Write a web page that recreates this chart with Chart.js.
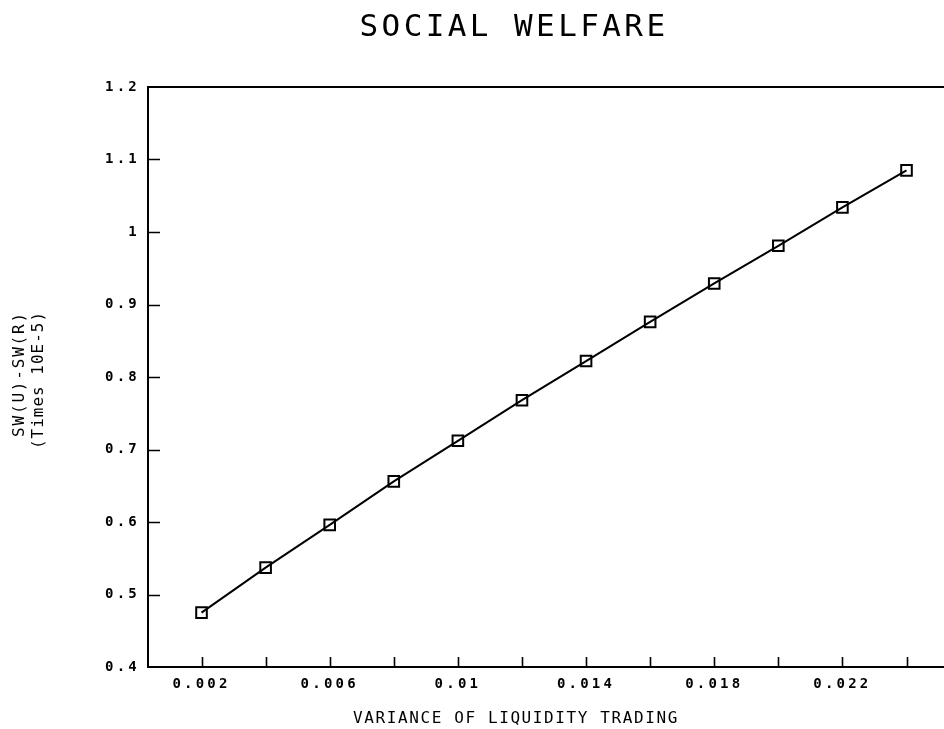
<!DOCTYPE html>
<html>
<head>
<meta charset="utf-8">
<title>Social Welfare</title>
<script src="https://cdn.jsdelivr.net/npm/chart.js@4/dist/chart.umd.min.js"></script>
<style>
  html, body { margin: 0; padding: 0; background: #ffffff; }
  #wrap { position: relative; width: 944px; height: 729px; }
</style>
</head>
<body>
<div id="wrap"><canvas id="chart"></canvas></div>
<script>
// Variance of liquidity trading (x) and the welfare gap SW(U)-SW(R), in units of 1e-5 (y)
const varianceLevels = [0.002, 0.004, 0.006, 0.008, 0.010, 0.012, 0.014, 0.016, 0.018, 0.020, 0.022, 0.024];
const welfareGap = [0.475, 0.537, 0.596, 0.656, 0.712, 0.768, 0.822, 0.876, 0.929, 0.981, 1.034, 1.085];

// Axis ticks and their labels (every other x tick carries a label)
const xTickValues = [0.002, 0.004, 0.006, 0.008, 0.010, 0.012, 0.014, 0.016, 0.018, 0.020, 0.022, 0.024];
const xTickLabels = ['0.002', '', '0.006', '', '0.01', '', '0.014', '', '0.018', '', '0.022', ''];
const yTickValues = [0.4, 0.5, 0.6, 0.7, 0.8, 0.9, 1.0, 1.1, 1.2];
const yTickLabels = ['0.4', '0.5', '0.6', '0.7', '0.8', '0.9', '1', '1.1', '1.2'];

// Text
const chartTitle = 'SOCIAL WELFARE';
const xAxisTitle = 'VARIANCE OF LIQUIDITY TRADING';
const yAxisTitle = ['SW(U)-SW(R)', '(Times 10E-5)'];

const MONO = '"DejaVu Sans Mono", "Liberation Mono", monospace';
const INK = '#000000';

// Frame top edge, inward tick marks and the spaced-out plotter-style text
const plotterDecor = {
  id: 'plotterDecor',
  beforeDraw(chart) {
    // tick labels are drawn with wide letter spacing
    chart.ctx.letterSpacing = '3.2px';
  },
  afterDraw(chart) {
    const ctx = chart.ctx;
    const area = chart.chartArea;
    const xs = chart.scales.x;
    const ys = chart.scales.y;
    ctx.save();
    ctx.strokeStyle = INK;
    ctx.fillStyle = INK;

    // top edge of the frame
    ctx.lineWidth = 2;
    ctx.beginPath();
    ctx.moveTo(area.left, area.top);
    ctx.lineTo(area.right, area.top);
    ctx.stroke();

    // inward ticks
    ctx.lineWidth = 1.6;
    ctx.beginPath();
    xTickValues.forEach(v => {
      const px = Math.round(xs.getPixelForValue(v)) + 0.5;
      ctx.moveTo(px, area.bottom);
      ctx.lineTo(px, area.bottom - 10);
    });
    yTickValues.forEach(v => {
      if (v <= ys.min || v >= ys.max) return;
      const py = Math.round(ys.getPixelForValue(v)) + 0.5;
      ctx.moveTo(area.left, py);
      ctx.lineTo(area.left + 12, py);
    });
    ctx.stroke();

    // title
    ctx.textAlign = 'center';
    ctx.textBaseline = 'middle';
    ctx.letterSpacing = '3.4px';
    ctx.font = '31px ' + MONO;
    ctx.fillText(chartTitle, 514, 28);

    // x axis title
    ctx.letterSpacing = '1.6px';
    ctx.font = '16px ' + MONO;
    ctx.fillText(xAxisTitle, 516, 719);

    // y axis title, two rotated lines
    ctx.save();
    ctx.rotate(-Math.PI / 2);
    ctx.letterSpacing = '1.8px';
    ctx.font = '16px ' + MONO;
    ctx.fillText(yAxisTitle[0], -374, 20);
    ctx.letterSpacing = '1px';
    ctx.fillText(yAxisTitle[1], -380, 39);
    ctx.restore();

    ctx.restore();
  }
};

new Chart(document.getElementById('chart'), {
  type: 'line',
  data: {
    datasets: [{
      data: varianceLevels.map((v, i) => ({ x: v, y: welfareGap[i] })),
      borderColor: INK,
      borderWidth: 2,
      backgroundColor: 'rgba(0,0,0,0)',
      pointStyle: 'rect',
      pointRadius: 7.5,
      pointBorderWidth: 2,
      pointBorderColor: INK,
      pointBackgroundColor: 'rgba(0,0,0,0)',
      tension: 0,
      fill: false
    }]
  },
  options: {
    responsive: true,
    maintainAspectRatio: false,
    animation: false,
    layout: { autoPadding: false, padding: { top: 87, left: 0, right: 0, bottom: 0 } },
    plugins: {
      legend: { display: false },
      title: { display: false },
      tooltip: { enabled: false }
    },
    scales: {
      x: {
        type: 'linear',
        min: 0.00033,
        max: 0.02517,
        afterBuildTicks(scale) { scale.ticks = xTickValues.map(v => ({ value: v })); },
        afterFit(scale) {
          scale.height = 62;
          scale.paddingLeft = 0;
          scale.paddingRight = 0;
        },
        grid: { drawOnChartArea: false, drawTicks: false },
        border: { display: true, color: INK, width: 2 },
        ticks: {
          autoSkip: false,
          maxRotation: 0,
          padding: 9,
          color: INK,
          font: { family: MONO, size: 14, weight: 'bold' },
          callback: (value, index) => xTickLabels[index]
        }
      },
      y: {
        type: 'linear',
        min: 0.4,
        max: 1.2,
        afterBuildTicks(scale) { scale.ticks = yTickValues.map(v => ({ value: v })); },
        afterFit(scale) {
          scale.width = 148;
          scale.paddingTop = 0;
          scale.paddingBottom = 0;
        },
        grid: { drawOnChartArea: false, drawTicks: false },
        border: { display: true, color: INK, width: 2 },
        ticks: {
          autoSkip: false,
          padding: 8,
          color: INK,
          font: { family: MONO, size: 14, weight: 'bold' },
          callback: (value, index) => yTickLabels[index]
        }
      }
    }
  },
  plugins: [plotterDecor]
});
</script>
</body>
</html>
